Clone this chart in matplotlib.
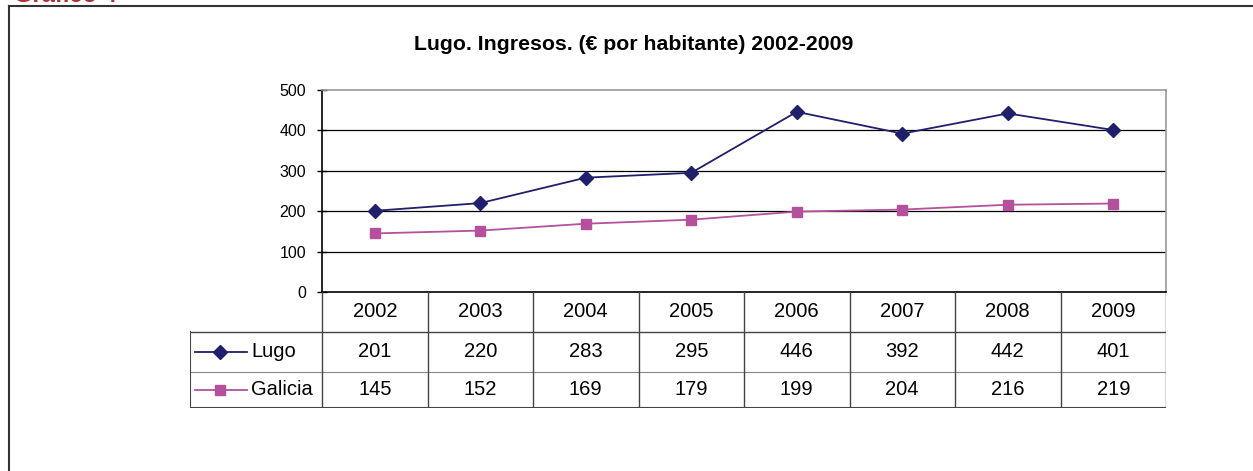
import matplotlib
matplotlib.use("Agg")
import matplotlib.pyplot as plt
from matplotlib.lines import Line2D

plt.rcParams['font.family'] = ['Liberation Sans', 'DejaVu Sans']

# datos
anos = ['2002', '2003', '2004', '2005', '2006', '2007', '2008', '2009']
lugo = [201, 220, 283, 295, 446, 392, 442, 401]
galicia = [145, 152, 169, 179, 199, 204, 216, 219]
series = ['Lugo', 'Galicia']
titulo = 'Lugo. Ingresos. (€ por habitante) 2002-2009'
yticks = [0, 100, 200, 300, 400, 500]

col_lugo = '#1f1f6b'
col_gal = '#b4509c'

W, H = 1253, 471
fig = plt.figure(figsize=(W / 100, H / 100), dpi=100)

def fx(px):
    return px / W

def fy(py):
    return 1 - py / H

# marco exterior
fig.add_artist(Line2D([fx(9), 1.0], [fy(6), fy(6)], color='#333333', lw=1.5))
fig.add_artist(Line2D([fx(9), fx(9)], [fy(6), 0], color='#333333', lw=1.5))
fig.text(fx(14), fy(2.5), 'Gráfico 4', color='#b03030', fontsize=17,
         fontweight='bold', va='baseline', ha='left')

# titulo
fig.text(fx(634), fy(45), titulo, fontsize=15.3, fontweight='bold',
         ha='center', va='center')

# grafico
L, R, T, B = 322, 1166, 90, 292
ax = fig.add_axes([fx(L), fy(B), fx(R - L), (B - T) / H])
x = list(range(len(anos)))
ax.plot(x, lugo, color=col_lugo, lw=1.3, marker='D', ms=7, zorder=3)
ax.plot(x, galicia, color=col_gal, lw=1.3, marker='s', ms=7, zorder=3)
ax.set_xlim(-0.5, len(anos) - 0.5)
ax.set_ylim(0, 500)
ax.set_yticks(yticks)
ax.set_yticklabels([str(v) for v in yticks], fontsize=11.5)
ax.set_xticks([])
ax.tick_params(axis='y', length=7, width=1, direction='inout', pad=8)
for v in yticks[1:-1]:
    ax.axhline(v, color='black', lw=0.9, zorder=1)
ax.spines['left'].set_color('black')
ax.spines['bottom'].set_color('black')
ax.spines['top'].set_color('#999999')
ax.spines['right'].set_color('#999999')
for s in ax.spines.values():
    s.set_linewidth(1.2)

# tabla de datos (coordenadas y en pixeles)
TL, TB = 190, 408
filas = [B, 332, 372, TB]
upx = len(anos) / (R - L)
x0 = -0.5 - (L - TL) * upx
xr = len(anos) - 0.5
tax = fig.add_axes([fx(TL), fy(TB), fx(R - TL), (TB - B) / H])
tax.set_xlim(x0, xr)
tax.set_ylim(TB, B)
tax.axis('off')
lc = '#444444'
tax.plot([x0, xr], [filas[1], filas[1]], color=lc, lw=1)
tax.plot([x0, xr], [filas[2], filas[2]], color='#888888', lw=0.8)
tax.plot([x0, xr], [filas[3], filas[3]], color=lc, lw=1.5)
for i in range(len(anos) + 1):
    tax.plot([i - 0.5, i - 0.5], [B, TB], color=lc, lw=1)
tax.plot([x0, x0], [filas[1], TB], color=lc, lw=1.5)

for i, a in enumerate(anos):
    for r, txt in enumerate([a, str(lugo[i]), str(galicia[i])]):
        yc = (filas[r] + filas[r + 1]) / 2
        tax.text(i, yc, txt, ha='center', va='center', fontsize=14.5)

for r, (nom, col, mk) in enumerate(zip(series, [col_lugo, col_gal], ['D', 's'])):
    yy = (filas[r + 1] + filas[r + 2]) / 2
    tax.plot([x0 + 5 * upx, x0 + 57 * upx], [yy, yy], color=col, lw=1.3)
    tax.plot([x0 + 30 * upx], [yy], color=col, marker=mk, ms=7)
    tax.text(x0 + 61 * upx, yy, nom, ha='left', va='center', fontsize=14.5)

fig.savefig('out.png', dpi=100)
